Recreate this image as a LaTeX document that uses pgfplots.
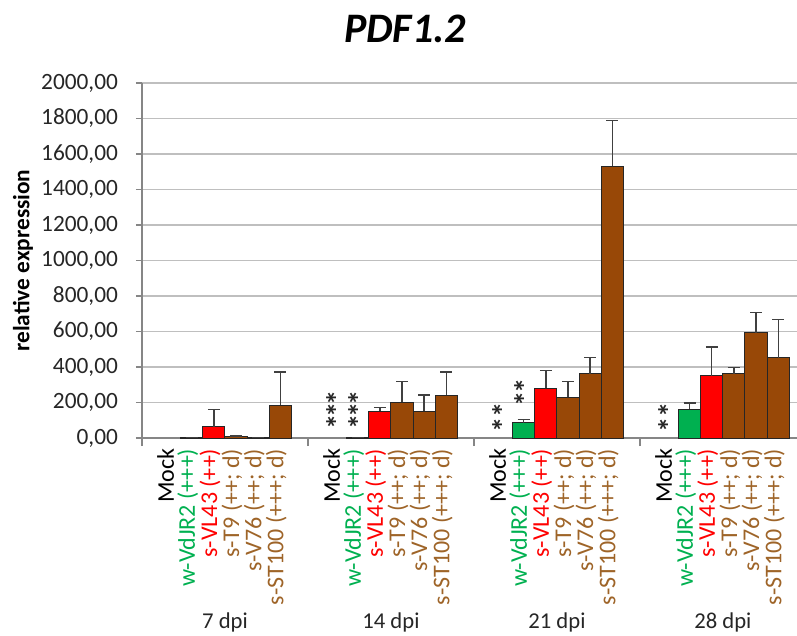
\documentclass[border=0pt]{standalone}
\usepackage{pgfplots}
\pgfplotsset{compat=1.18}
\usepackage{pgfplotstable}
\usepackage{fontspec}
\setmainfont{Carlito}

\definecolor{barGreen}{HTML}{00B050}
\definecolor{barRed}{HTML}{FF0000}
\definecolor{barBrown}{HTML}{984807}
\definecolor{labBrown}{RGB}{158,100,40}
\definecolor{axGray}{RGB}{134,134,134}
\definecolor{errGray}{RGB}{64,64,64}

% bar centre (x), mean (y) and upper error (e); groups are 7.5 units wide
\pgfplotstableread{
x     y     e
2.25  3     0
9.75  2     0
17.25 87    19
24.75 163   35
}\tabGreen
\pgfplotstableread{
x     y     e
3.25  62    98
10.75 151   22
18.25 280   100
25.75 352   161
}\tabRed
\pgfplotstableread{
x     y     e
4.25  8     4
11.75 202   116
19.25 229   91
26.75 363   34
}\tabTnine
\pgfplotstableread{
x     y     e
5.25  3     0
12.75 151   92
20.25 363   92
27.75 592   114
}\tabVsix
\pgfplotstableread{
x     y     e
6.25  185   187
13.75 240   131
21.25 1530  257
28.75 453   216
}\tabST

\newcommand{\lblfont}{\fontsize{18}{20}\selectfont}
\newcommand{\G}[1]{\textcolor{barGreen}{#1}}
\newcommand{\R}[1]{\textcolor{barRed}{#1}}
\newcommand{\B}[1]{\textcolor{labBrown}{#1}}

\begin{document}
\begin{tikzpicture}[star/.style={rotate=90, font=\fontsize{23}{23}\selectfont\bfseries, inner sep=0pt, text=black!85}]
\begin{axis}[
  at={(0,0)}, anchor=south west,
  scale only axis, width=491.25pt, height=266.25pt,
  xmin=0, xmax=29.6, ymin=0, ymax=2000,
  clip mode=individual,
  axis lines*=left,
  axis line style={-, draw=axGray, line width=1pt},
  tick align=outside,
  major tick length=4.5pt,
  ytick={0,200,...,2000},
  ymajorgrids,
  grid style={gray!50, line width=1.2pt},
  ytick style={draw=axGray, line width=1pt},
  y tick label style={/pgf/number format/.cd, fixed, fixed zerofill, precision=2,
    use comma, 1000 sep={}, assume math mode=true, /tikz/.cd,
    font=\fontsize{17.5}{20}\selectfont, text=black!85, xshift=-10pt},
  xtick={1.25,2.25,3.25,4.25,5.25,6.25,
         8.75,9.75,10.75,11.75,12.75,13.75,
         16.25,17.25,18.25,19.25,20.25,21.25,
         23.75,24.75,25.75,26.75,27.75,28.75},
  xticklabels={Mock,\G{w-VdJR2 (+++)},\R{s-VL43 (++)},\B{s-T9 (++; d)},\B{s-V76 (++; d)},\B{s-ST100 (+++; d)},
               Mock,\G{w-VdJR2 (+++)},\R{s-VL43 (++)},\B{s-T9 (++; d)},\B{s-V76 (++; d)},\B{s-ST100 (+++; d)},
               Mock,\G{w-VdJR2 (+++)},\R{s-VL43 (++)},\B{s-T9 (++; d)},\B{s-V76 (++; d)},\B{s-ST100 (+++; d)},
               Mock,\G{w-VdJR2 (+++)},\R{s-VL43 (++)},\B{s-T9 (++; d)},\B{s-V76 (++; d)},\B{s-ST100 (+++; d)}},
  xtick style={draw=none},
  x tick label style={rotate=90, anchor=east, font=\lblfont, text=black, yshift=3pt},
  extra x ticks={0,7.5,15,22.5},
  extra x tick labels={},
  extra x tick style={xtick style={draw=axGray, line width=1pt}, major tick length=6pt},
  every axis plot/.append style={ybar, bar width=1, bar shift=0pt,
    draw=black!85, line width=0.75pt,
    error bars/y dir=plus, error bars/y explicit,
    error bars/error bar style={errGray, line width=1pt},
    error bars/error mark options={errGray, rotate=90, mark size=4.5pt, line width=1pt}},
]
\addplot[fill=barGreen] table[x=x, y=y, y error=e] {\tabGreen};
\addplot[fill=barRed]   table[x=x, y=y, y error=e] {\tabRed};
\addplot[fill=barBrown] table[x=x, y=y, y error=e] {\tabTnine};
\addplot[fill=barBrown] table[x=x, y=y, y error=e] {\tabVsix};
\addplot[fill=barBrown] table[x=x, y=y, y error=e] {\tabST};

% significance marks
\node[star] at (axis cs:8.85,228) {*};
\node[star] at (axis cs:8.85,160) {*};
\node[star] at (axis cs:8.85,93) {*};
\node[star] at (axis cs:9.85,228) {*};
\node[star] at (axis cs:9.85,160) {*};
\node[star] at (axis cs:9.85,93) {*};
\node[star] at (axis cs:16.35,160) {*};
\node[star] at (axis cs:16.35,76) {*};
\node[star] at (axis cs:17.35,295) {*};
\node[star] at (axis cs:17.35,222) {*};
\node[star] at (axis cs:23.85,160) {*};
\node[star] at (axis cs:23.85,76) {*};

% time points
\node[font=\fontsize{17}{20}\selectfont, text=black!85, yshift=-138pt] at (axis cs:3.75,0) {7 dpi};
\node[font=\fontsize{17}{20}\selectfont, text=black!85, yshift=-138pt] at (axis cs:11.25,0) {14 dpi};
\node[font=\fontsize{17}{20}\selectfont, text=black!85, yshift=-138pt] at (axis cs:18.75,0) {21 dpi};
\node[font=\fontsize{17}{20}\selectfont, text=black!85, yshift=-138pt] at (axis cs:26.25,0) {28 dpi};
\end{axis}

\node[font=\fontsize{31.5}{36}\selectfont\bfseries\itshape] at (197.25pt,307pt) {PDF1.2};
\node[rotate=90, font=\fontsize{17.5}{20}\selectfont\bfseries] at (-89.25pt,133.1pt) {relative expression};

\pgfresetboundingbox
\useasboundingbox (-106.5pt,-148.5pt) rectangle (491.25pt,328.5pt);
\end{tikzpicture}
\end{document}
